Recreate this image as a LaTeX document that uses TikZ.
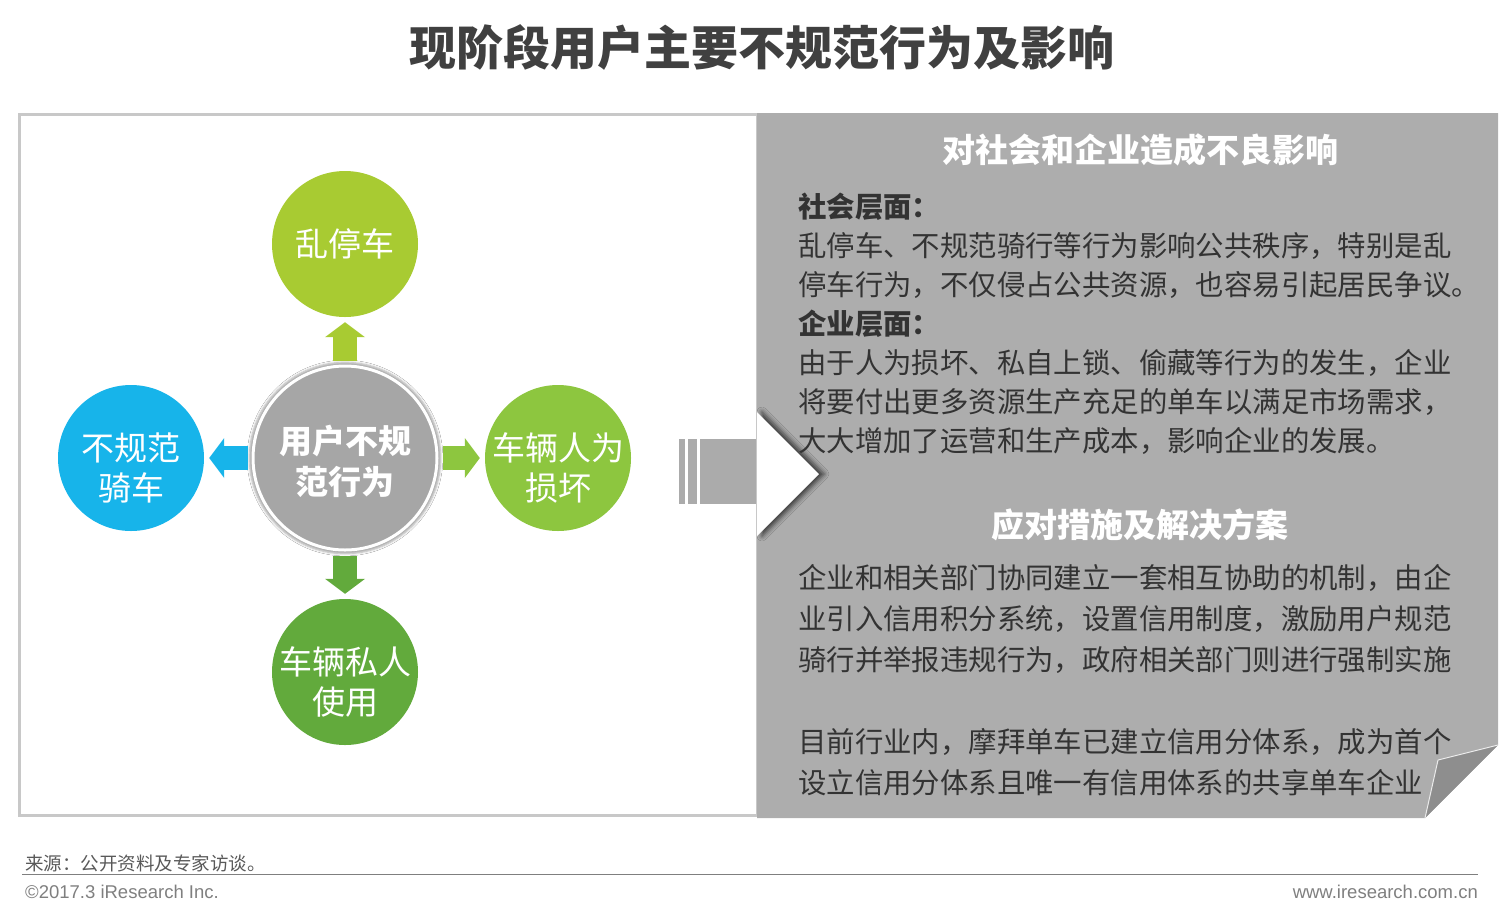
\documentclass[tikz,border=0pt]{standalone}
\usepackage{fontspec}
\setmainfont{Liberation Sans}
\newfontfamily\cjk{Noto Sans CJK SC}
\usepackage{tikz}
\usetikzlibrary{arrows.meta,positioning,shadows.blur}
\definecolor{titel}{HTML}{404040}
\definecolor{wenzi}{HTML}{333333}
\definecolor{panel}{HTML}{ADADAD}
\definecolor{falte}{HTML}{8E8E8E}
\definecolor{balken}{HTML}{ABABAB}
\definecolor{rahmen}{HTML}{C8C8C8}
\definecolor{hexin}{HTML}{A6A6A6}
\definecolor{luan}{HTML}{A8CB32}
\definecolor{sunhuai}{HTML}{8DC63F}
\definecolor{siren}{HTML}{62AA3C}
\definecolor{qiche}{HTML}{17B4EA}
\definecolor{fuss}{HTML}{595959}
\definecolor{fussgrau}{HTML}{7F7F7F}
\newcommand{\hoch}{\rule{0pt}{47pt}}

\begin{document}
\begin{tikzpicture}[x=1pt, y=-1pt,
  bubble/.style={circle, minimum size=146pt, inner sep=-14pt, text=white, align=center, font=\cjk\fontsize{33}{40}\selectfont},
  push/.style={line width=24pt, -{Triangle[length=15pt, width=40pt, line width=0pt]}, shorten <=4pt, shorten >=5pt},
  para/.style={anchor=west, align=left, inner sep=0pt, text=wenzi},
  head/.style={text=white, inner sep=0pt, font=\cjk\bfseries\fontsize{33}{40}\selectfont},
  foot/.style={inner sep=0pt, font=\fontsize{18.5}{20}\selectfont}
]
\useasboundingbox (0,0) rectangle (1512,914);

\node[font=\cjk\bfseries\fontsize{47}{50}\selectfont, text=titel, inner sep=0pt] (title) at (762,47) {现阶段用户主要不规范行为及影响};

% --- rahmen und panel -------------------------------------------------------
\draw[fill=white, draw=rahmen, line width=3pt] (19,114) rectangle (757,815);
\fill[panel] (757,113) -- (1498,113) -- (1498,745) -- (1425,818) -- (757,818) -- cycle;
\fill[falte] (1498,745) -- (1438,760) -- (1425,818) -- cycle;
\draw[white!75!panel, line width=1pt] (1498,745) -- (1438,760) -- (1425,818);

\fill[white, blur shadow={shadow xshift=5pt, shadow yshift=0pt, shadow blur radius=5pt, shadow opacity=70}]
  (757,412) -- (819,474) -- (757,536) -- cycle;
\fill[balken] (679,439) rectangle (685,504);
\fill[balken] (688,439) rectangle (697,504);
\fill[balken] (700,439) rectangle (756,504);

% --- kreise -----------------------------------------------------------------
\node[bubble, fill=hexin, minimum size=184pt, draw=white, line width=3pt,
  font=\cjk\bfseries\fontsize{33}{41}\selectfont,
  blur shadow={shadow xshift=0pt, shadow yshift=0pt, shadow scale=1.04, shadow opacity=35}] (ctr) at (345,458) {\rule{0pt}{36pt}用户不规\\范行为};
\node[bubble, fill=luan]    (park)    at (345,244) {乱停车};
\node[bubble, fill=sunhuai] (damage)  at (558,458) {\hoch 车辆人为\\损坏};
\node[bubble, fill=siren]   (private) at (345,672) {\hoch 车辆私人\\使用};
\node[bubble, fill=qiche]   (ride)    at (131,458) {\hoch 不规范\\骑车};

\draw[push, luan]    (ctr) -- (park);
\draw[push, sunhuai] (ctr) -- (damage);
\draw[push, siren]   (ctr) -- (private);
\draw[push, qiche]   (ctr) -- (ride);

% --- texte im panel ---------------------------------------------------------
\node[head] (impact) at (1140,150) {对社会和企业造成不良影响};
\node[para, font=\cjk\fontsize{28.4}{39}\selectfont] (social) at (798,324)
  {\textbf{社会层面：}\\
   乱停车、不规范骑行等行为影响公共秩序，特别是乱\\
   停车行为，不仅侵占公共资源，也容易引起居民争议。\\
   \textbf{企业层面：}\\
   由于人为损坏、私自上锁、偷藏等行为的发生，企业\\
   将要付出更多资源生产充足的单车以满足市场需求，\\
   大大增加了运营和生产成本，影响企业的发展。};

\node[head] (measure) at (1140,525) {应对措施及解决方案};
\node[para, font=\cjk\fontsize{28.4}{41}\selectfont] (credit) at (798,680)
  {企业和相关部门协同建立一套相互协助的机制，由企\\
   业引入信用积分系统，设置信用制度，激励用户规范\\
   骑行并举报违规行为，政府相关部门则进行强制实施\\[41pt]
   目前行业内，摩拜单车已建立信用分体系，成为首个\\
   设立信用分体系且唯一有信用体系的共享单车企业};

% --- fusszeile --------------------------------------------------------------
\node[foot, anchor=west, text=fuss, font=\cjk\fontsize{18.5}{20}\selectfont] (source) at (25,863) {来源：公开资料及专家访谈。};
\draw[fussgrau, line width=1pt] (22,874) -- (1478,874);
\node[foot, anchor=west, text=fussgrau] (copy) at (25,892) {©2017.3 iResearch Inc.};
\node[foot, anchor=east, text=fussgrau] (url) at (1478,892) {www.iresearch.com.cn};

\end{tikzpicture}
\end{document}
